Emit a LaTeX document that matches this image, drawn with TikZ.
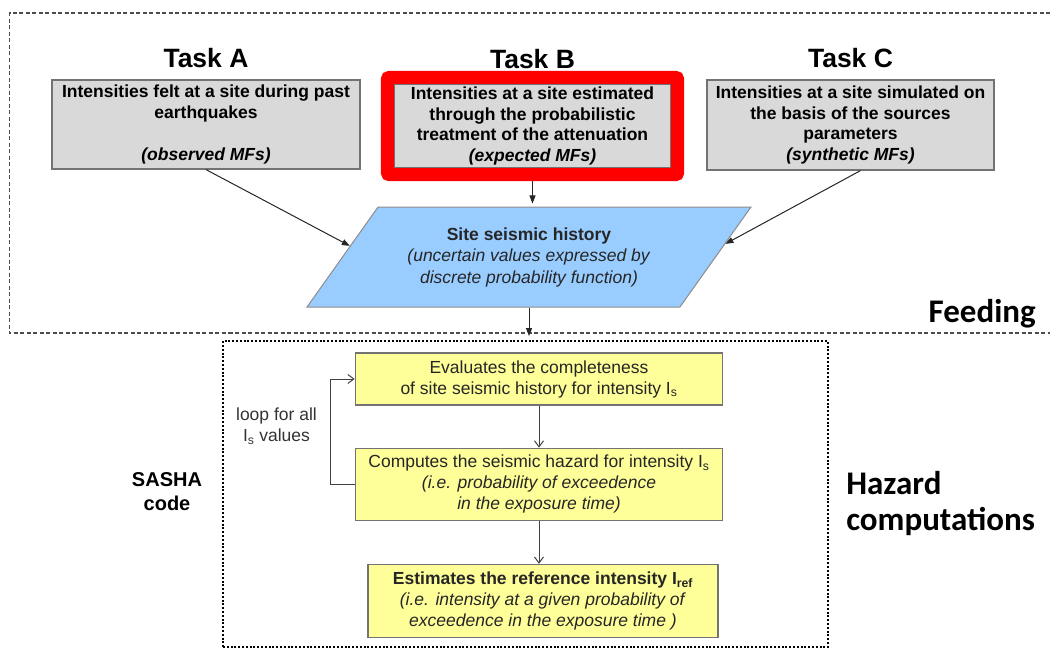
\documentclass[tikz,border=0pt]{standalone}
\usepackage{fontspec}
\setmainfont{Liberation Sans}
\newfontfamily\calibri{Carlito}
\usetikzlibrary{arrows.meta, positioning, shapes.geometric, fit, calc}

\definecolor{boxgray}{HTML}{D9D9D9}
\definecolor{histblue}{HTML}{99CCFF}
\definecolor{codeyellow}{HTML}{FFFF99}

\begin{document}
\begin{tikzpicture}[x=1pt, y=-1pt, >={Triangle[length=8pt,width=6pt]}, semithick]
        \tikzstyle{task} = [font=\fontsize{26.5}{30}\selectfont\bfseries, inner sep=0pt]
        \tikzstyle{graybox} = [rectangle, draw=black!55, fill=boxgray, line width=1.2pt, inner sep=2pt, align=center, font=\fontsize{17.5}{20.8}\selectfont\bfseries]
        \tikzstyle{history} = [trapezium, trapezium left angle=48.3, trapezium right angle=131.7, trapezium stretches=true, minimum width=445pt, minimum height=100pt, draw=black!45, fill=histblue, line width=1pt, align=center, text=black!85, font=\fontsize{17.5}{21.5}\selectfont]
        \tikzstyle{codebox} = [rectangle, draw=black!55, fill=codeyellow, line width=1.2pt, inner sep=2pt, align=center, text=black!85, font=\fontsize{17.5}{21}\selectfont]
        \tikzstyle{feed} = [->, line width=1pt, black!85]
        \tikzstyle{flow} = [-{Straight Barb[length=6pt,width=9pt]}, line width=1pt, black!75]
        \tikzstyle{phase} = [font=\calibri\fontsize{33}{36}\selectfont\bfseries, inner sep=0pt, align=left]

        \useasboundingbox (0,0) rectangle (1050,648);

        % feeding part
        \draw[black!70, line width=1.2pt, dash pattern=on 4pt off 2.5pt] (1050,13) -| (9.5,333) -- (1050,333);

        \node[graybox, minimum width=308pt, minimum height=89pt](obs) at (206,124.5) {Intensities felt at a site during past\\earthquakes\\[20.8pt]\textit{(observed MFs)}};
        \node[graybox, minimum width=277pt, minimum height=84pt](exp) at (532.5,126) {Intensities at a site estimated\\through the probabilistic\\treatment of the attenuation\\\textit{(expected MFs)}};
        \node[graybox, minimum width=287pt, minimum height=90pt](syn) at (850.5,125) {Intensities at a site simulated on\\the basis of the sources\\parameters\\\textit{(synthetic MFs)}};
        \node[draw=red, line width=13pt, rounded corners=2pt, inner sep=6pt, fit=(exp)](expframe) {};

        \node[task](taskA) [above=11pt of obs] {Task A};
        \node[task](taskB) [above=2pt of expframe] {Task B};
        \node[task](taskC) [above=11pt of syn] {Task C};

        \node[history](hist) at (529,257) {\textbf{Site seismic history}\\\textit{(uncertain values expressed by}\\\textit{discrete probability function)}};

        \draw[feed] (obs.south) -- ($(hist.top left corner)!0.39!(hist.bottom left corner)$);
        \draw[feed] ([xshift=10pt]syn.south) -- ($(hist.top right corner)!0.37!(hist.bottom right corner)$);
        \draw[feed, shorten >=3pt] (expframe.south) -- (expframe.south |- hist.north);

        \node[phase, anchor=north east](feeding) at (1036,299) {Feeding};

        % SASHA code part
        \node[draw, line width=2pt, dash pattern=on 2pt off 1.8pt, minimum width=605pt, minimum height=306pt](sasha) at (525.4,494) {};
        \draw[feed, shorten >=4pt] (hist.center |- hist.south) -- (hist.center |- sasha.north);

        \node[codebox, minimum width=367.5pt, minimum height=52pt](compl) at (539,379) {Evaluates the completeness\\of site seismic history for intensity I\textsubscript{s}};
        \node[codebox, minimum width=367.5pt, minimum height=72pt](hazard) [below=42pt of compl] {Computes the seismic hazard for intensity I\textsubscript{s}\\\textit{(i.e. probability of exceedence}\\\textit{in the exposure time)}};
        \node[codebox, minimum width=350pt, minimum height=73pt](iref) [below=43pt of hazard, xshift=4pt] {\textbf{Estimates the reference intensity I\textsubscript{ref}}\\\textit{(i.e. intensity at a given probability of}\\\textit{exceedence in the exposure time )}};

        \draw[flow] (compl.south) -- (hazard.north);
        \draw[flow] (hazard.south) -- (hazard.south |- iref.north);
        \draw[flow] (hazard.west) -- ++(-24,0) |- (compl.west);

        \node[font=\fontsize{17.5}{21}\selectfont, align=center, text=black!80](loop) at (276.5,426) {loop for all\\I\textsubscript{s} values};
        \node[font=\fontsize{20}{24}\selectfont\bfseries, align=center](code) at (167,492) {SASHA\\code};
        \node[phase, anchor=north west](hazcomp) at (846,471) {Hazard\\computations};
\end{tikzpicture}
\end{document}
